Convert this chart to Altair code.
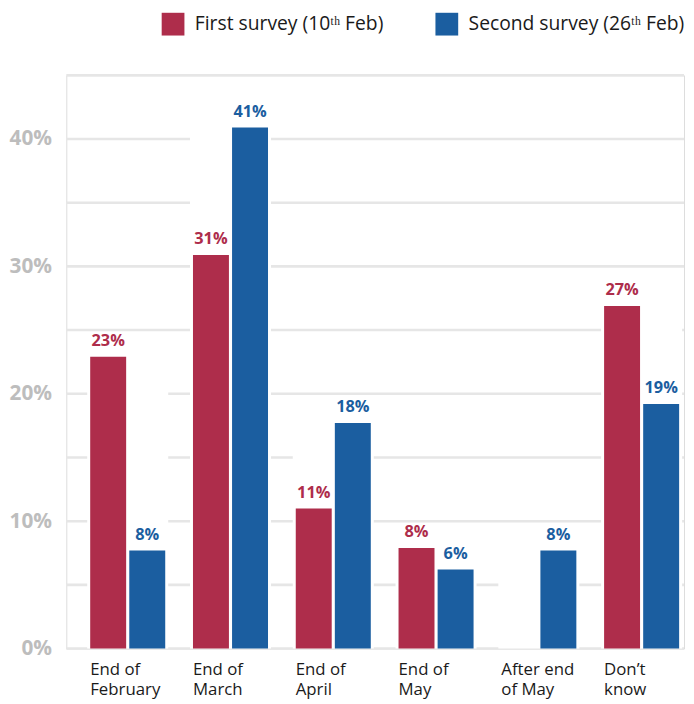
import altair as alt
import pandas as pd

categories = ["End of|February", "End of|March", "End of|April", "End of|May", "After end|of May", "Don’t|know"]
series_names = ["First survey (10ᵗʰ Feb)", "Second survey (26ᵗʰ Feb)"]
first_values = [22.9, 30.9, 11.0, 7.9, None, 26.9]
second_values = [7.7, 40.9, 17.7, 6.2, 7.7, 19.2]
colors = ["#AE2D4B", "#1B5EA0"]
y_ticks = [0, 5, 10, 15, 20, 25, 30, 35, 40, 45]

rows = []
for c, a, b in zip(categories, first_values, second_values):
    if a is not None:
        rows.append({"category": c, "series": series_names[0], "value": a})
    if b is not None:
        rows.append({"category": c, "series": series_names[1], "value": b})
df = pd.DataFrame(rows)
df["label"] = df["value"].round(0).astype(int).astype(str) + "%"

bg = pd.DataFrame({
    "category": categories,
    "gmax": [max(v for v in (a, b) if v is not None) for a, b in zip(first_values, second_values)],
})
grid_df = pd.DataFrame({"v": y_ticks})

FONT = "Open Sans"

xscale = alt.Scale(domain=categories, paddingInner=0.27, paddingOuter=0.14, align=0.83)
yscale = alt.Scale(domain=[0, 45], nice=False)
cscale = alt.Scale(domain=series_names, range=colors)
oscale = alt.Scale(paddingInner=0.08)

xaxis = alt.Axis(
    title=None, domain=False, ticks=False, grid=False, labelAngle=0,
    labelAlign="left", labelBaseline="top", labelPadding=13, labelOffset=-38,
    labelExpr="split(datum.value, '|')", labelFont=FONT, labelFontSize=17,
    labelColor="#1a1a1a", labelLineHeight=20,
)
yaxis = alt.Axis(
    title=None, domain=False, ticks=False, grid=False, values=y_ticks,
    labelExpr="datum.value % 10 == 0 ? datum.value + '%' : ''",
    labelFont=FONT, labelFontSize=21, labelFontWeight="bold", labelColor="#BDBDBD",
    labelPadding=15,
)

gridlines = alt.Chart(grid_df).mark_rule(color="#E6E6E6", strokeWidth=2.6).encode(
    y=alt.Y("v:Q", scale=yscale, axis=yaxis),
)

base_bg = alt.Chart(bg).mark_bar(color="white", strokeWidth=0, width={"band": 1.08}).encode(
    x=alt.X("category:N", scale=xscale, axis=xaxis, sort=categories),
    y=alt.Y("gmax:Q", scale=yscale, axis=yaxis),
)

bars = alt.Chart(df).mark_bar(strokeWidth=0).encode(
    x=alt.X("category:N", scale=xscale, sort=categories, axis=xaxis),
    xOffset=alt.XOffset("series:N", scale=oscale, sort=series_names),
    y=alt.Y("value:Q", scale=yscale, axis=yaxis),
    color=alt.Color(
        "series:N", scale=cscale, sort=series_names,
        legend=alt.Legend(
            title=None, orient="none", legendX=96, legendY=-64, direction="horizontal",
            symbolType="square", symbolSize=530, symbolStrokeWidth=0, symbolOpacity=1,
            labelFont=FONT, labelFontSize=19.5, labelColor="#1a1a1a", labelLimit=0,
            labelOffset=10, columnPadding=52, padding=0,
        ),
    ),
)

labels = alt.Chart(df).mark_text(
    font=FONT, fontSize=16.5, fontWeight="bold", dy=-11, baseline="alphabetic", align="center"
).encode(
    x=alt.X("category:N", scale=xscale, sort=categories, axis=xaxis),
    xOffset=alt.XOffset("series:N", scale=oscale, sort=series_names),
    y=alt.Y("value:Q", scale=yscale, axis=yaxis),
    text="label:N",
    color=alt.Color("series:N", scale=cscale, sort=series_names, legend=None),
)

chart = alt.layer(gridlines, base_bg, bars, labels).properties(
    width=625, height=580,
    autosize=alt.AutoSizeParams(type="none"),
    padding={"left": 59, "top": 64, "right": 2, "bottom": 52},
).configure_view(stroke=None, strokeWidth=0).configure(background="white").configure_axis(
    grid=False, domain=False, ticks=False
)

chart.save("out.html", embed_options={"renderer": "svg", "actions": False})
